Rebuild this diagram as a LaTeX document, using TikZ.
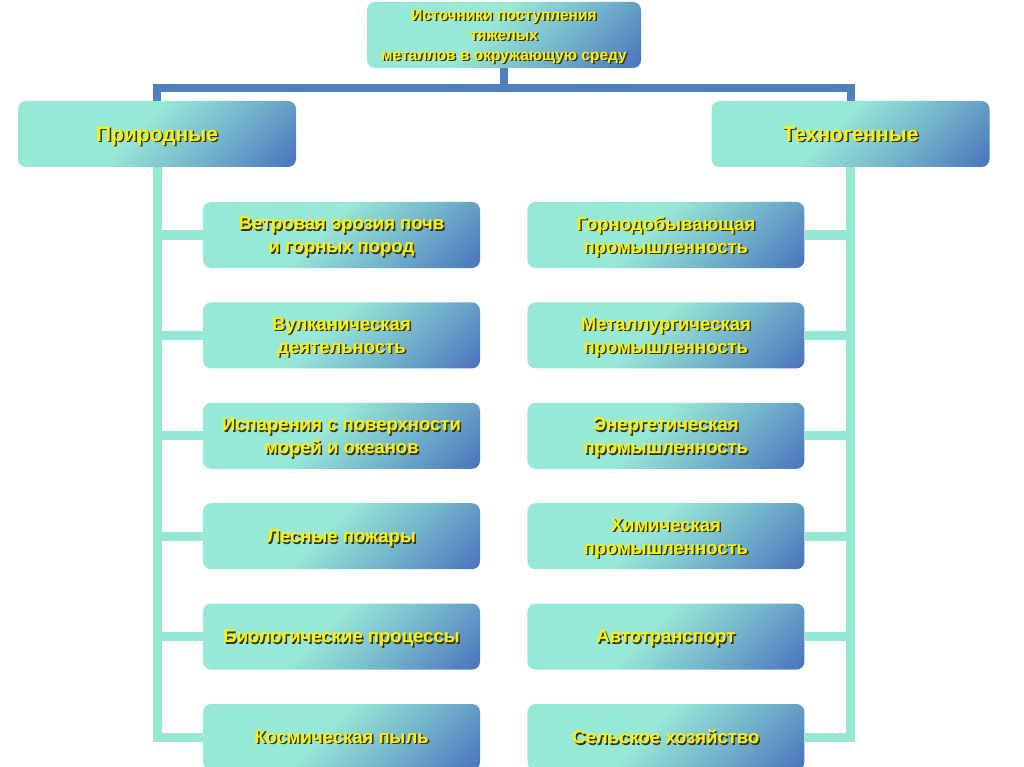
\documentclass[tikz,border=0pt]{standalone}
\usepackage{fontspec}
\setmainfont{Liberation Sans}
\usetikzlibrary{positioning}

\definecolor{boxmint}{RGB}{152,232,214}
\definecolor{boxmid}{RGB}{112,175,202}
\definecolor{boxblue}{RGB}{74,116,188}
\definecolor{busblue}{RGB}{79,129,189}
\definecolor{linemint}{RGB}{150,232,212}
\definecolor{txtshadow}{RGB}{50,50,40}

\pgfdeclarehorizontalshading{boxgrad}{100bp}{color(0bp)=(boxmint); color(45bp)=(boxmint); color(66bp)=(boxmid); color(85bp)=(boxblue); color(100bp)=(boxblue)}

% yellow text with a dark drop shadow
\newcommand{\shd}[1]{\leavevmode\rlap{\hspace{1.5pt}\raisebox{-1.5pt}{\color{txtshadow}#1}}#1}

\begin{document}
\begin{tikzpicture}[x=1pt,y=-1pt,
    box/.style={rounded corners=8pt, shading=boxgrad, shading angle=-45,
      minimum width=277pt, minimum height=66pt, inner sep=2pt, align=center,
      text depth=0pt, text=yellow, font=\bfseries\fontsize{18.5}{23}\selectfont},
    headbox/.style={box, minimum width=274pt, font=\bfseries\fontsize{15.5}{20}\selectfont},
    groupbox/.style={box, minimum width=278pt, font=\bfseries\fontsize{21}{24}\selectfont},
    busline/.style={draw=busblue, line width=8pt},
    leafline/.style={draw=linemint, line width=9pt}]
  \useasboundingbox (0,0) rectangle (1024,767);

  \node[headbox] (src) at (504,35)
    {\shd{Источники поступления}\\ \shd{тяжелых}\\ \shd{металлов в окружающую среду}};
  \node[groupbox] (nat) at (157,134) {\shd{Природные}};
  \node[groupbox] (tech) at (850.5,134) {\shd{Техногенные}};

  \node[box] (n1) at (341.5,235) {\shd{Ветровая эрозия почв}\\ \shd{и горных пород}};
  \node[box] (n2) [below=34pt of n1] {\shd{Вулканическая}\\ \shd{деятельность}};
  \node[box] (n3) [below=34pt of n2] {\shd{Испарения с поверхности}\\ \shd{морей и океанов}};
  \node[box] (n4) [below=34pt of n3] {\shd{Лесные пожары}};
  \node[box] (n5) [below=34pt of n4] {\shd{Биологические процессы}};
  \node[box] (n6) [below=34pt of n5] {\shd{Космическая пыль}};

  \node[box] (t1) [right=47pt of n1] {\shd{Горнодобывающая}\\ \shd{промышленность}};
  \node[box] (t2) [right=47pt of n2] {\shd{Металлургическая}\\ \shd{промышленность}};
  \node[box] (t3) [right=47pt of n3] {\shd{Энергетическая}\\ \shd{промышленность}};
  \node[box] (t4) [right=47pt of n4] {\shd{Химическая}\\ \shd{промышленность}};
  \node[box] (t5) [right=47pt of n5] {\shd{Автотранспорт}};
  \node[box] (t6) [right=47pt of n6] {\shd{Сельское хозяйство}};

  \coordinate (bus) at ([yshift=-20pt]src.south);
  \path[busline] (src.south) -- (bus);
  \path[busline] (nat.north) |- (bus) -| (tech.north);

  \path[leafline] (nat.south) |- (n6.west);
  \path[leafline] (tech.south) |- (t6.east);
  \foreach \i in {1,...,5} {
    \path[leafline] (n\i.west) -- (n\i.west -| nat.south);
    \path[leafline] (t\i.east) -- (t\i.east -| tech.south);
  }
\end{tikzpicture}
\end{document}
